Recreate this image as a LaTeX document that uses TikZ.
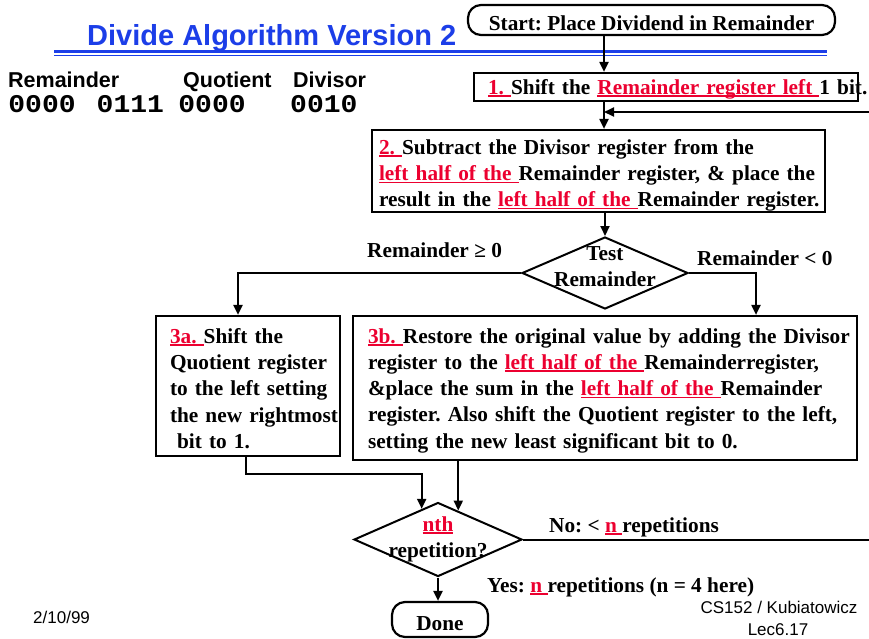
\documentclass[tikz,border=0pt]{standalone}
\usepackage{fontspec}
\setmainfont{Liberation Serif}
\newfontfamily\arialfont{Liberation Sans}
\newfontfamily\courfont[FakeStretch=1.1]{Liberation Mono}
\usepackage{xcolor}
\usepackage{tikz}
\usetikzlibrary{positioning,shapes.geometric,arrows.meta}
\definecolor{hl}{RGB}{236,0,48}
\definecolor{ttl}{RGB}{28,62,232}

%% red key words with a flat underline
\newcommand{\hlu}[1]{{\color{hl}\setbox0=\hbox{#1}%
  \rlap{\rule[-2.6pt]{\wd0}{1.7pt}}\box0}}
%% pushes a box's first line down
\newcommand{\topstrut}[1]{\rule{0pt}{#1}}
\newcommand{\boxfont}{\fontsize{21.3}{26.2}\selectfont\bfseries\frenchspacing}
\newcommand{\regfont}{\arialfont\bfseries\fontsize{21.5}{22}\selectfont}
\newcommand{\bitfont}{\courfont\bfseries\fontsize{25.5}{26}\selectfont}
\newcommand{\footfont}{\arialfont\fontsize{17}{22}\selectfont}

\begin{document}
\begin{tikzpicture}[
  x=1pt, y=-1pt,
  every node/.style = {inner sep=0pt},
  %% box styles
  stepbox/.style = {rectangle, draw, line width=2.2pt, align=left,
                    font=\boxfont},
  endbox/.style  = {rectangle, draw, line width=2.2pt, rounded corners=13pt,
                    font=\boxfont, text height=21.5pt, text depth=0pt},
  testbox/.style = {diamond, draw, line width=2pt},
  %% free text
  lbl/.style     = {anchor=base west, font=\boxfont},
  reg/.style     = {anchor=base west, font=\regfont},
  bits/.style    = {anchor=base west, font=\bitfont},
  %% arrow
  arr/.style     = {-{Triangle[length=10pt,width=9pt]}, line width=2pt}
]
\path[fill=white, use as bounding box] (0,0) rectangle (869,638);

%% ---- Title ----
\node[anchor=base west, text=ttl,
      font=\arialfont\bfseries\fontsize{29}{30}\selectfont]
  (title) at (87,45) {Divide Algorithm Version 2};
\draw[ttl, line width=2.6pt] (54,51.5) -- (827,51.5);
\draw[ttl, line width=1.6pt] (54,55.4) -- (827,55.4);

%% ---- Registers ----
\node[reg]  (remreg) at (8,87)    {Remainder};
\node[reg]  (quoreg) at (183,87)  {Quotient};
\node[reg]  (divreg) at (293,87)  {Divisor};
\node[bits] (remhi)  at (8.2,112)  {0000};
\node[bits] (remlo)  at (96.5,112) {0111};
\node[bits] (quobit) at (178.2,112) {0000};
\node[bits] (divbit) at (290,112) {0010};

%% ---- Steps ----
\node[endbox, minimum width=367pt, minimum height=30pt]
  (start) at (651.5,20) {Start: Place Dividend in Remainder};

\node[stepbox, text width=356pt, inner xsep=14pt, minimum height=28pt,
      text height=15pt, text depth=1pt] (s1) at (666,87)
  {\mbox{\hlu{1. }Shift the \hlu{Remainder register left }1 bit.}};

\node[stepbox, text width=439pt, inner xsep=7pt, minimum height=82pt]
  (s2) at (598.5,171)
  {\mbox{\topstrut{24pt}\hlu{2. }Subtract the Divisor register from the}\\
   \mbox{\hlu{left half of the }Remainder register, \& place the}\\
   \mbox{result in the \hlu{left half of the }Remainder register.}};

\node[testbox, minimum width=166pt, minimum height=72pt] (test) at (605,273) {};
\node[font=\boxfont, align=center] (testtxt) at (605,266.5) {Test\\Remainder};

\node[stepbox, text width=156pt, inner xsep=14pt, minimum height=140pt]
  (s3a) at (248,386)
  {\mbox{\topstrut{20pt}\hlu{3a. }Shift the}\\
   \mbox{Quotient register}\\
   \mbox{to the left setting}\\
   \mbox{the new rightmost}\\
   \mbox{\ bit to 1.}};

\node[stepbox, text width=474pt, inner xsep=15pt, minimum height=144pt]
  (s3b) at (605,388)
  {\mbox{\topstrut{20pt}\hlu{3b. }Restore the original value by adding the Divisor}\\
   \mbox{register to the \hlu{left half of the }Remainderregister,}\\
   \mbox{\&place the sum in the \hlu{left half of the }Remainder}\\
   \mbox{register. Also shift the Quotient register to the left,}\\
   \mbox{setting the new least significant bit to 0.}};

\node[testbox, minimum width=168pt, minimum height=74pt] (rep) at (438,539.5) {};
\node[font=\boxfont, align=center] (reptxt) at (438,539.5) {\hlu{nth}\\repetition?};

\node[endbox, minimum width=96pt, minimum height=35pt]
  (done) at (440,619.5) {Done};

%% ---- Branch labels ----
\node[lbl] (gelbl)  at (367,257) {Remainder ≥ 0};
\node[lbl] (ltlbl)  at (697,265) {Remainder < 0};
\node[lbl] (nolbl)  at (549,532) {No: < \hlu{n }repetitions};
\node[lbl] (yeslbl) at (487,592) {Yes: \hlu{n }repetitions (n = 4 here)};

%% ---- Footer ----
\node[anchor=base west, font=\footfont] (date)   at (33,623)  {2/10/99};
\node[anchor=base, font=\footfont]      (course) at (779,613) {CS152 / Kubiatowicz};
\node[anchor=base, font=\footfont]      (lec)    at (778,635) {Lec6.17};

%% ---- Arrows ----
\coordinate (spine) at (604,0);
\coordinate (join)  at (604,112);
\coordinate (lcol)  at (238,0);
\coordinate (rcol)  at (756,0);
\coordinate (acol)  at (246,0);
\coordinate (edge)  at (876,0);

\draw[arr] (start.south -| spine) -- (s1.north -| spine);
\draw[arr] (s1.south -| spine) -- (s2.north -| spine);
\draw[arr] (s2.south -| test.north) -- (test.north);
\draw[arr] (test.west) -| (s3a.north -| lcol);
\draw[arr] (test.east) -| (s3b.north -| rcol);
\draw[arr] (s3a.south -| acol) -- ++(0,17) -| (rep.118);
\draw[arr] (s3b.south -| rep.55) -- (rep.55);
\draw[arr] (rep.south) -- (rep.south |- done.north);
\draw[arr] (rep.east) -- (rep.east -| edge) |- (join);

\end{tikzpicture}
\end{document}
